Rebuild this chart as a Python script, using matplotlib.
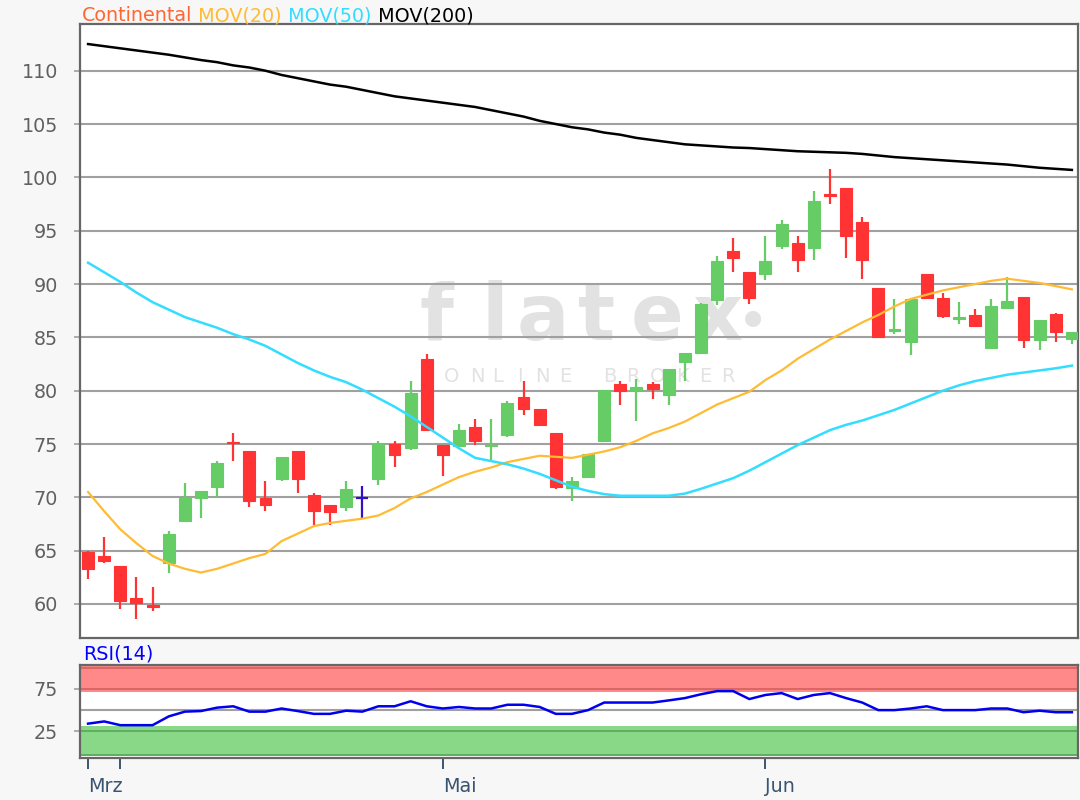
import matplotlib
matplotlib.use("Agg")
import matplotlib.pyplot as plt
import numpy as np

plt.rcParams['font.family'] = ['DejaVu Sans']

# ---------------- data ----------------
opens = [64.9, 64.5, 63.6, 60.6, 59.9, 63.8, 67.8, 69.9, 71.0, 75.2, 74.3, 69.9, 71.7, 74.3, 70.2, 69.3,
         69.1, 69.9, 71.7, 75.0, 74.6, 83.0, 74.9, 74.8, 76.55, 74.8, 75.8, 79.4, 78.3, 76.0, 70.9, 71.95,
         75.3, 80.6, 80.1, 80.6, 79.6, 82.7, 83.5, 88.5, 93.1, 91.1, 90.9, 93.6, 93.8, 93.4, 98.4, 99.0,
         95.8, 89.6, 85.55, 84.6, 90.9, 88.65, 86.7, 87.1, 84.0, 87.75, 88.8, 84.75, 87.2, 84.8]
closes = [63.3, 64.0, 60.3, 60.1, 59.7, 66.6, 69.9, 70.55, 73.2, 75.1, 69.7, 69.3, 73.8, 71.7, 68.7, 68.6,
          70.8, 69.9, 75.0, 74.0, 79.8, 76.3, 74.0, 76.3, 75.3, 74.9, 78.8, 78.3, 76.8, 71.0, 71.5, 74.1,
          80.1, 80.0, 80.3, 80.2, 82.0, 83.5, 88.1, 92.2, 92.4, 88.7, 92.2, 95.6, 92.25, 97.8, 98.3, 94.5,
          92.25, 85.0, 85.8, 88.6, 88.7, 87.0, 86.9, 86.1, 87.9, 88.4, 84.75, 86.6, 85.5, 85.5]
highs = [65.0, 66.3, 63.6, 62.5, 61.6, 66.8, 71.3, 70.6, 73.4, 76.0, 74.3, 71.5, 73.8, 74.3, 70.4, 69.3,
         71.5, 71.1, 75.3, 75.25, 80.9, 83.4, 74.9, 76.9, 77.3, 77.3, 79.0, 80.9, 78.3, 76.0, 71.95, 74.1,
         80.1, 80.9, 81.1, 80.8, 82.0, 83.5, 88.2, 92.6, 94.3, 91.1, 94.5, 96.0, 94.5, 98.75, 100.8, 99.0,
         96.3, 89.6, 88.6, 88.6, 90.9, 89.2, 88.3, 87.7, 88.6, 90.7, 88.8, 86.6, 87.3, 85.5]
lows = [62.3, 63.8, 59.5, 58.6, 59.3, 62.9, 67.8, 68.1, 69.9, 73.4, 69.1, 68.7, 71.55, 70.4, 67.4, 67.4,
        68.7, 68.1, 71.2, 72.8, 74.4, 76.3, 72.0, 74.8, 74.9, 73.5, 75.65, 77.75, 76.8, 70.8, 69.7, 71.95,
        75.3, 78.7, 77.2, 79.25, 78.7, 80.9, 83.5, 88.0, 91.1, 88.1, 90.4, 93.3, 91.1, 92.25, 97.5, 92.4,
        90.5, 85.0, 85.3, 83.3, 88.7, 86.8, 86.25, 86.1, 84.0, 87.75, 84.0, 83.8, 84.6, 84.4]

mov20 = [70.5, 68.7, 67.0, 65.7, 64.5, 63.8, 63.3, 62.95, 63.3, 63.8, 64.3, 64.7, 65.9, 66.6, 67.3, 67.6,
         67.8, 68.0, 68.3, 69.0, 69.9, 70.5, 71.2, 71.9, 72.4, 72.8, 73.3, 73.6, 73.9, 73.8, 73.7, 74.0,
         74.3, 74.7, 75.3, 76.0, 76.5, 77.1, 77.9, 78.7, 79.3, 79.9, 81.0, 81.9, 83.0, 83.9, 84.8, 85.6,
         86.4, 87.1, 87.9, 88.6, 89.0, 89.4, 89.7, 90.0, 90.3, 90.5, 90.3, 90.1, 89.8, 89.5]
mov50 = [92.0, 91.1, 90.2, 89.2, 88.3, 87.6, 86.9, 86.4, 85.9, 85.3, 84.8, 84.2, 83.4, 82.6, 81.9, 81.3,
         80.8, 80.1, 79.3, 78.5, 77.6, 76.6, 75.6, 74.6, 73.7, 73.4, 73.1, 72.7, 72.2, 71.6, 71.0, 70.6,
         70.3, 70.15, 70.15, 70.15, 70.15, 70.35, 70.8, 71.3, 71.8, 72.5, 73.3, 74.1, 74.9, 75.6, 76.3, 76.8,
         77.2, 77.7, 78.2, 78.8, 79.4, 80.0, 80.5, 80.9, 81.2, 81.5, 81.7, 81.9, 82.1, 82.35]
mov200 = [112.5, 112.3, 112.1, 111.9, 111.7, 111.5, 111.25, 111.0, 110.8, 110.5, 110.3, 110.0, 109.6, 109.3,
          109.0, 108.7, 108.5, 108.2, 107.9, 107.6, 107.4, 107.2, 107.0, 106.8, 106.6, 106.3, 106.0, 105.7,
          105.3, 105.0, 104.7, 104.5, 104.2, 104.0, 103.7, 103.5, 103.3, 103.1, 103.0, 102.9, 102.8, 102.75,
          102.65, 102.55, 102.45, 102.4, 102.35, 102.3, 102.2, 102.05, 101.9, 101.8, 101.7, 101.6, 101.5,
          101.4, 101.3, 101.2, 101.05, 100.9, 100.8, 100.7]
rsi = [34.2, 36.8, 32.4, 32.4, 32.4, 42.7, 48.3, 49.0, 53.0, 54.6, 48.3, 48.3, 52.0, 49.0, 45.7, 45.7,
       49.4, 48.3, 54.6, 54.6, 60.5, 54.6, 52.0, 53.8, 52.0, 52.0, 56.4, 56.4, 53.8, 45.7, 45.7, 50.1,
       59.0, 59.0, 59.0, 59.0, 61.5, 64.2, 68.7, 72.4, 72.4, 63.1, 67.9, 70.1, 63.1, 67.9, 70.1, 64.2,
       59.0, 50.1, 50.1, 52.0, 54.6, 50.1, 50.1, 50.1, 52.0, 52.0, 47.6, 49.4, 47.6, 47.6]

price_ticks = [60, 65, 70, 75, 80, 85, 90, 95, 100, 105, 110]
month_tick_pos = [0, 2, 22, 42]
month_tick_labels = ["Mrz", "", "Mai", "Jun"]
rsi_ticks = [25, 75]

# ---------------- styling ----------------
GREEN = "#66cc66"
RED = "#ff3333"
BLUE_DOJI = "#3311cc"
C_MOV20 = "#ffbb33"
C_MOV50 = "#33ddff"
C_MOV200 = "#000000"
SPINE = "#666666"
GRID = "#a0a0a0"
TICKTXT = "#606060"
FS = 13.8

fig = plt.figure(figsize=(10.8, 8.0), dpi=100, facecolor="#f7f7f7")
W, H = 1080.0, 800.0
ax = fig.add_axes([80 / W, (H - 637.7) / H, 997.7 / W, 613.7 / H])
ax2 = fig.add_axes([80 / W, (H - 757.7) / H, 997.7 / W, 92.7 / H])

x = np.arange(len(opens))
for a in (ax, ax2):
    a.set_facecolor("white")
    a.set_xlim(-0.5, 61.36)
    for s in a.spines.values():
        s.set_color(SPINE)
        s.set_linewidth(1.6)

# ---------------- main panel ----------------
ax.set_ylim(56.84, 114.38)
ax.set_yticks(price_ticks)
ax.set_yticklabels([str(t) for t in price_ticks])
ax.tick_params(axis='y', length=4, width=1.2, color=GRID, labelsize=FS, labelcolor=TICKTXT, pad=12)
ax.set_xticks([])
ax.set_axisbelow(True)
ax.yaxis.grid(True, color=GRID, linewidth=1.5)

# watermark (figure pixel positions converted to axes fraction)
def to_ax(px, py):
    return (px - 80) / 997.7, (637.7 - py) / 613.7

wm_letters = ["f", "l", "a", "t", "e", "x"]
wm_x = [436, 495, 543, 597, 657, 718]
for ch, px in zip(wm_letters, wm_x):
    ax.text(*to_ax(px, 340), ch, transform=ax.transAxes, fontsize=56, fontweight="bold",
            color="#e2e2e2", ha="center", va="baseline", zorder=0.3)
ax.text(*to_ax(753, 318), "\u25CF", transform=ax.transAxes, fontsize=15, color="#e2e2e2",
        ha="center", va="center", zorder=0.3)
ob_letters = ["O", "N", "L", "I", "N", "E", "B", "R", "O", "K", "E", "R"]
ob_x = [452, 477, 498, 520, 542, 565, 610, 633, 658, 682, 705, 728]
for ch, px in zip(ob_letters, ob_x):
    ax.text(*to_ax(px, 377), ch, transform=ax.transAxes, fontsize=14, color="#e2e2e2",
            ha="center", va="center", zorder=0.3)

# candles
for i in x:
    o, c, h, l = opens[i], closes[i], highs[i], lows[i]
    if c > o:
        col = GREEN
    elif c < o:
        col = RED
    else:
        col = BLUE_DOJI
    ax.vlines(i, l, h, color=col, linewidth=1.6, zorder=3)
    if col == BLUE_DOJI:
        ax.hlines(o, i - 0.37, i + 0.37, color=col, linewidth=1.6, zorder=3)
    else:
        ax.bar(i, abs(c - o), bottom=min(o, c), width=0.74, color=col, edgecolor=col,
               linewidth=0.8, zorder=3)

ax.plot(x, mov20, color=C_MOV20, linewidth=1.6, zorder=4)
ax.plot(x, mov50, color=C_MOV50, linewidth=1.8, zorder=4)
ax.plot(x, mov200, color=C_MOV200, linewidth=1.8, zorder=4)

# legend text on top
t0 = fig.text(82 / W, 1 - 21 / H, "Continental", color="#ff6633", fontsize=FS, ha="left", va="baseline")
t1 = ax.annotate(" MOV(20)", xy=(1, 0), xycoords=t0, va="bottom", ha="left", color=C_MOV20,
                 fontsize=FS, annotation_clip=False)
t2 = ax.annotate(" MOV(50)", xy=(1, 0), xycoords=t1, va="bottom", ha="left", color=C_MOV50,
                 fontsize=FS, annotation_clip=False)
t3 = ax.annotate(" MOV(200)", xy=(1, 0), xycoords=t2, va="bottom", ha="left", color=C_MOV200,
                 fontsize=FS, annotation_clip=False)

# ---------------- RSI panel ----------------
ax2.set_ylim(-5.8, 103.1)
ax2.axhspan(71.8, 101.9, color="#ff8888", zorder=1, linewidth=0)
ax2.axhspan(-3.6, 32.0, color="#88d888", zorder=1, linewidth=0)
for yv, col in [(99.2, "#d96666"), (75, "#d96666"), (25, "#5fae5f"), (-2.3, "#5fae5f")]:
    ax2.axhline(yv, color=col, linewidth=1.4, zorder=1.5)
ax2.axhline(50, color=GRID, linewidth=1.5, zorder=1.5)
ax2.plot(x, rsi, color="#0000ee", linewidth=1.8, zorder=3)
ax2.set_yticks(rsi_ticks)
ax2.set_yticklabels([str(t) for t in rsi_ticks])
ax2.tick_params(axis='y', length=4, width=1.2, color=GRID, labelsize=FS, labelcolor=TICKTXT, pad=12)
ax2.set_xticks(month_tick_pos)
ax2.set_xticklabels(month_tick_labels)
ax2.tick_params(axis='x', length=8, width=1.4, color="#3a5470", labelsize=FS,
                labelcolor="#3a5470", pad=6)
for lab in ax2.get_xticklabels():
    lab.set_horizontalalignment("left")
fig.text(83 / W, 1 - 660 / H, "RSI(14)", color="#0000ff", fontsize=FS, ha="left", va="baseline")

fig.savefig("out.png", dpi=100, facecolor=fig.get_facecolor())
